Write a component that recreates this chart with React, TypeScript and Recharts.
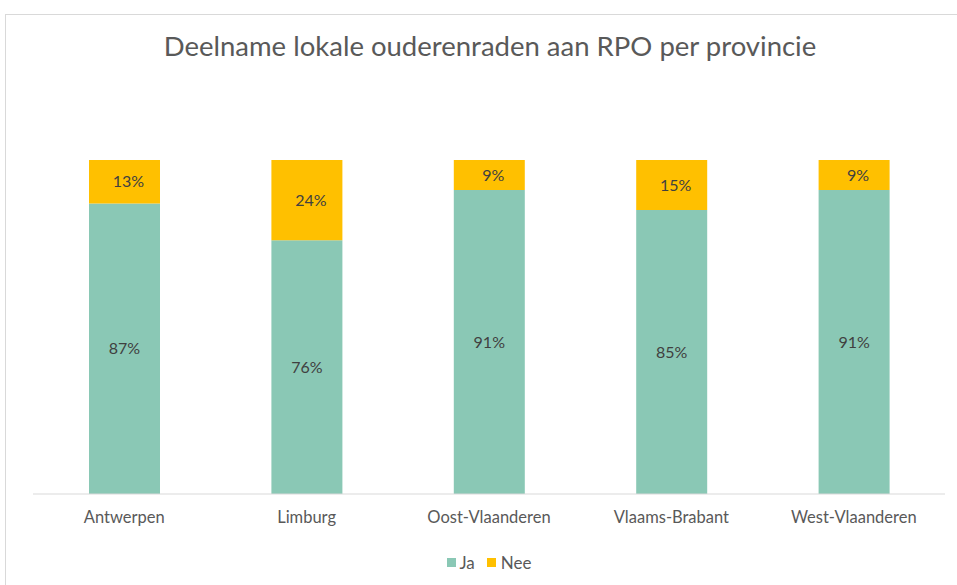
import { BarChart, Bar, XAxis, YAxis, Legend, LabelList } from "recharts";

const provinces = ["Antwerpen", "Limburg", "Oost-Vlaanderen", "Vlaams-Brabant", "West-Vlaanderen"];
const ja = [87, 76, 91, 85, 91];
const nee = [13, 24, 9, 15, 9];

const data = provinces.map((p, i) => ({ name: p, ja: ja[i], nee: nee[i] }));

const FONT = "Lato, 'Noto Sans', sans-serif";

const renderLegend = () => (
  <div style={{ display: "flex", justifyContent: "center", gap: 12, fontFamily: FONT, fontSize: 17, color: "#595959" }}>
    <span style={{ display: "flex", alignItems: "center", gap: 4 }}>
      <span style={{ width: 9, height: 9, background: "#8AC8B5", display: "inline-block" }} />
      Ja
    </span>
    <span style={{ display: "flex", alignItems: "center", gap: 5 }}>
      <span style={{ width: 9, height: 9, background: "#FFC000", display: "inline-block" }} />
      Nee
    </span>
  </div>
);

export default function App() {
  const pct = (v: any) => `${v}%`;
  return (
    <div style={{ position: "fixed", left: 0, top: 0, width: 957, height: 585, background: "#fff", overflow: "hidden" }}>
      <div
        style={{
          position: "absolute",
          left: 5,
          top: 14,
          width: 1000,
          height: 700,
          borderTop: "1px solid #D9D9D9",
          borderLeft: "1px solid #D9D9D9",
        }}
      />
      <div
        style={{
          position: "absolute",
          left: 0,
          top: 29,
          width: 980,
          textAlign: "center",
          fontFamily: FONT,
          fontSize: 27.5,
          color: "#595959",
        }}
      >
        Deelname lokale ouderenraden aan RPO per provincie
      </div>
      <div style={{ position: "absolute", left: 0, top: 0 }}>
        <BarChart
          width={957}
          height={585}
          data={data}
          barSize={71}
          margin={{ top: 160, right: 12, left: 33, bottom: 3 }}
        >
          <XAxis
            dataKey="name"
            axisLine={{ stroke: "#D9D9D9" }}
            tickLine={false}
            tickMargin={11}
            height={58}
            tick={{ fill: "#595959", fontSize: 16.5, fontFamily: FONT }}
            interval={0}
          />
          <YAxis hide domain={[0, 100]} />
          <Legend content={renderLegend} verticalAlign="bottom" height={30} />
          <Bar dataKey="ja" stackId="a" fill="#8AC8B5" isAnimationActive={false}>
            <LabelList dataKey="ja" position="center" formatter={pct} fill="#404040" fontSize={16} fontFamily={FONT} />
          </Bar>
          <Bar dataKey="nee" stackId="a" fill="#FFC000" isAnimationActive={false}>
            <LabelList dataKey="nee" position="center" formatter={pct} fill="#404040" fontSize={16} fontFamily={FONT} dx={4} />
          </Bar>
        </BarChart>
      </div>
    </div>
  );
}
